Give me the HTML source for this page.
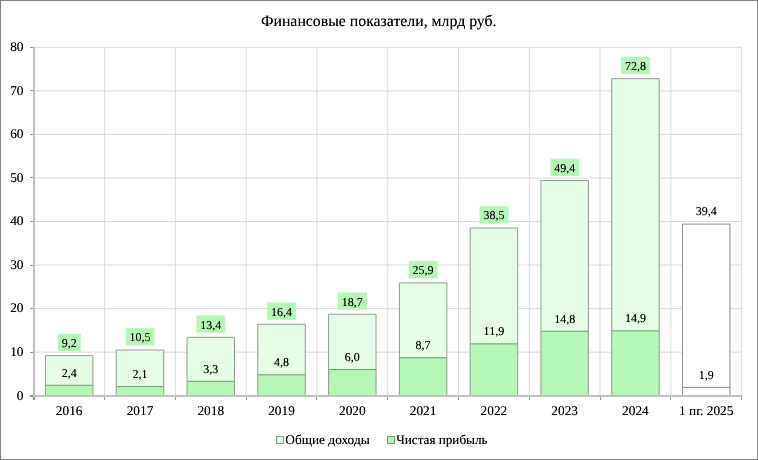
<!DOCTYPE html><html><head><meta charset="utf-8"><style>
html,body{margin:0;padding:0;background:#fff;}
body{width:758px;height:460px;position:relative;overflow:hidden;}
</style></head><body>
<svg width="758" height="460" viewBox="0 0 758 460" style="position:absolute;left:0;top:0">
<rect x="0.5" y="0.5" width="757" height="459" fill="#fff" stroke="#828282" stroke-width="1"/>
<line x1="33.81" y1="352.15" x2="741.61" y2="352.15" stroke="#d9d9d9" stroke-width="1"/>
<line x1="33.81" y1="308.60" x2="741.61" y2="308.60" stroke="#d9d9d9" stroke-width="1"/>
<line x1="33.81" y1="265.05" x2="741.61" y2="265.05" stroke="#d9d9d9" stroke-width="1"/>
<line x1="33.81" y1="221.50" x2="741.61" y2="221.50" stroke="#d9d9d9" stroke-width="1"/>
<line x1="33.81" y1="177.95" x2="741.61" y2="177.95" stroke="#d9d9d9" stroke-width="1"/>
<line x1="33.81" y1="134.40" x2="741.61" y2="134.40" stroke="#d9d9d9" stroke-width="1"/>
<line x1="33.81" y1="90.85" x2="741.61" y2="90.85" stroke="#d9d9d9" stroke-width="1"/>
<line x1="33.81" y1="47.30" x2="741.61" y2="47.30" stroke="#d9d9d9" stroke-width="1"/>
<line x1="104.59" y1="47.3" x2="104.59" y2="395.70" stroke="#d9d9d9" stroke-width="1"/>
<line x1="175.37" y1="47.3" x2="175.37" y2="395.70" stroke="#d9d9d9" stroke-width="1"/>
<line x1="246.15" y1="47.3" x2="246.15" y2="395.70" stroke="#d9d9d9" stroke-width="1"/>
<line x1="316.93" y1="47.3" x2="316.93" y2="395.70" stroke="#d9d9d9" stroke-width="1"/>
<line x1="387.71" y1="47.3" x2="387.71" y2="395.70" stroke="#d9d9d9" stroke-width="1"/>
<line x1="458.49" y1="47.3" x2="458.49" y2="395.70" stroke="#d9d9d9" stroke-width="1"/>
<line x1="529.27" y1="47.3" x2="529.27" y2="395.70" stroke="#d9d9d9" stroke-width="1"/>
<line x1="600.05" y1="47.3" x2="600.05" y2="395.70" stroke="#d9d9d9" stroke-width="1"/>
<line x1="670.83" y1="47.3" x2="670.83" y2="395.70" stroke="#d9d9d9" stroke-width="1"/>
<line x1="741.61" y1="47.3" x2="741.61" y2="395.70" stroke="#d9d9d9" stroke-width="1"/>
<rect x="45.48" y="355.63" width="47.45" height="40.07" fill="#e6fde6"/>
<rect x="45.48" y="385.25" width="47.45" height="10.45" fill="#b5f7b5"/>
<line x1="45.48" y1="385.25" x2="92.93" y2="385.25" stroke="#6e966e" stroke-width="1"/>
<path d="M45.48,395.70V355.63H92.93V395.70" fill="none" stroke="#8f998f" stroke-width="1"/>
<rect x="116.26" y="349.97" width="47.45" height="45.73" fill="#e6fde6"/>
<rect x="116.26" y="386.55" width="47.45" height="9.15" fill="#b5f7b5"/>
<line x1="116.26" y1="386.55" x2="163.71" y2="386.55" stroke="#6e966e" stroke-width="1"/>
<path d="M116.26,395.70V349.97H163.71V395.70" fill="none" stroke="#8f998f" stroke-width="1"/>
<rect x="187.03" y="337.34" width="47.45" height="58.36" fill="#e6fde6"/>
<rect x="187.03" y="381.33" width="47.45" height="14.37" fill="#b5f7b5"/>
<line x1="187.03" y1="381.33" x2="234.49" y2="381.33" stroke="#6e966e" stroke-width="1"/>
<path d="M187.03,395.70V337.34H234.49V395.70" fill="none" stroke="#8f998f" stroke-width="1"/>
<rect x="257.81" y="324.28" width="47.45" height="71.42" fill="#e6fde6"/>
<rect x="257.81" y="374.80" width="47.45" height="20.90" fill="#b5f7b5"/>
<line x1="257.81" y1="374.80" x2="305.26" y2="374.80" stroke="#6e966e" stroke-width="1"/>
<path d="M257.81,395.70V324.28H305.26V395.70" fill="none" stroke="#8f998f" stroke-width="1"/>
<rect x="328.59" y="314.26" width="47.45" height="81.44" fill="#e6fde6"/>
<rect x="328.59" y="369.57" width="47.45" height="26.13" fill="#b5f7b5"/>
<line x1="328.59" y1="369.57" x2="376.04" y2="369.57" stroke="#6e966e" stroke-width="1"/>
<path d="M328.59,395.70V314.26H376.04V395.70" fill="none" stroke="#8f998f" stroke-width="1"/>
<rect x="399.38" y="282.91" width="47.45" height="112.79" fill="#e6fde6"/>
<rect x="399.38" y="357.81" width="47.45" height="37.89" fill="#b5f7b5"/>
<line x1="399.38" y1="357.81" x2="446.82" y2="357.81" stroke="#6e966e" stroke-width="1"/>
<path d="M399.38,395.70V282.91H446.82V395.70" fill="none" stroke="#8f998f" stroke-width="1"/>
<rect x="470.15" y="228.03" width="47.45" height="167.67" fill="#e6fde6"/>
<rect x="470.15" y="343.88" width="47.45" height="51.82" fill="#b5f7b5"/>
<line x1="470.15" y1="343.88" x2="517.61" y2="343.88" stroke="#6e966e" stroke-width="1"/>
<path d="M470.15,395.70V228.03H517.61V395.70" fill="none" stroke="#8f998f" stroke-width="1"/>
<rect x="540.94" y="180.56" width="47.45" height="215.14" fill="#e6fde6"/>
<rect x="540.94" y="331.25" width="47.45" height="64.45" fill="#b5f7b5"/>
<line x1="540.94" y1="331.25" x2="588.39" y2="331.25" stroke="#6e966e" stroke-width="1"/>
<path d="M540.94,395.70V180.56H588.39V395.70" fill="none" stroke="#8f998f" stroke-width="1"/>
<rect x="611.72" y="78.66" width="47.45" height="317.04" fill="#e6fde6"/>
<rect x="611.72" y="330.81" width="47.45" height="64.89" fill="#b5f7b5"/>
<line x1="611.72" y1="330.81" x2="659.17" y2="330.81" stroke="#6e966e" stroke-width="1"/>
<path d="M611.72,395.70V78.66H659.17V395.70" fill="none" stroke="#8f998f" stroke-width="1"/>
<rect x="682.50" y="224.11" width="47.45" height="171.59" fill="#ffffff"/>
<rect x="682.50" y="387.43" width="47.45" height="8.27" fill="#ffffff"/>
<line x1="682.50" y1="387.43" x2="729.95" y2="387.43" stroke="#8c8c8c" stroke-width="1"/>
<path d="M682.50,395.70V224.11H729.95V395.70" fill="none" stroke="#8c8c8c" stroke-width="1"/>
<line x1="34" y1="46.8" x2="34" y2="397" stroke="#bfbfbf" stroke-width="2"/>
<line x1="33" y1="396" x2="742.11" y2="396" stroke="#bfbfbf" stroke-width="2"/>
<line x1="30" y1="396.00" x2="33" y2="396.00" stroke="#8f8f8f" stroke-width="2"/>
<line x1="30" y1="352.50" x2="33" y2="352.50" stroke="#8f8f8f" stroke-width="1"/>
<line x1="30" y1="308.50" x2="33" y2="308.50" stroke="#8f8f8f" stroke-width="1"/>
<line x1="30" y1="265.50" x2="33" y2="265.50" stroke="#8f8f8f" stroke-width="1"/>
<line x1="30" y1="221.50" x2="33" y2="221.50" stroke="#8f8f8f" stroke-width="1"/>
<line x1="30" y1="177.50" x2="33" y2="177.50" stroke="#8f8f8f" stroke-width="1"/>
<line x1="30" y1="134.50" x2="33" y2="134.50" stroke="#8f8f8f" stroke-width="1"/>
<line x1="30" y1="90.50" x2="33" y2="90.50" stroke="#8f8f8f" stroke-width="1"/>
<line x1="30" y1="47.50" x2="33" y2="47.50" stroke="#8f8f8f" stroke-width="1"/>
<line x1="34.00" y1="397" x2="34.00" y2="400" stroke="#8f8f8f" stroke-width="2"/>
<line x1="104.50" y1="397" x2="104.50" y2="400" stroke="#8f8f8f" stroke-width="1"/>
<line x1="175.50" y1="397" x2="175.50" y2="400" stroke="#8f8f8f" stroke-width="1"/>
<line x1="246.50" y1="397" x2="246.50" y2="400" stroke="#8f8f8f" stroke-width="1"/>
<line x1="316.50" y1="397" x2="316.50" y2="400" stroke="#8f8f8f" stroke-width="1"/>
<line x1="387.50" y1="397" x2="387.50" y2="400" stroke="#8f8f8f" stroke-width="1"/>
<line x1="458.50" y1="397" x2="458.50" y2="400" stroke="#8f8f8f" stroke-width="1"/>
<line x1="529.50" y1="397" x2="529.50" y2="400" stroke="#8f8f8f" stroke-width="1"/>
<line x1="600.50" y1="397" x2="600.50" y2="400" stroke="#8f8f8f" stroke-width="1"/>
<line x1="670.50" y1="397" x2="670.50" y2="400" stroke="#8f8f8f" stroke-width="1"/>
<line x1="741.50" y1="397" x2="741.50" y2="400" stroke="#8f8f8f" stroke-width="1"/>
<rect x="57.90" y="333.78" width="22.90" height="17.25" fill="#b5f7b5"/>
<rect x="125.68" y="328.12" width="28.90" height="17.25" fill="#b5f7b5"/>
<rect x="196.46" y="315.49" width="28.90" height="17.25" fill="#b5f7b5"/>
<rect x="267.24" y="302.43" width="28.90" height="17.25" fill="#b5f7b5"/>
<rect x="338.02" y="292.41" width="28.90" height="17.25" fill="#b5f7b5"/>
<rect x="408.80" y="261.06" width="28.90" height="17.25" fill="#b5f7b5"/>
<rect x="479.58" y="206.18" width="28.90" height="17.25" fill="#b5f7b5"/>
<rect x="550.36" y="158.71" width="28.90" height="17.25" fill="#b5f7b5"/>
<rect x="621.14" y="56.81" width="28.90" height="17.25" fill="#b5f7b5"/>
</svg>
<svg width="758" height="460" style="position:absolute;left:0;top:0">
<rect x="276.5" y="436.5" width="7" height="7" fill="#e6fde6" stroke="#8f998f" stroke-width="1"/>
<rect x="387.5" y="436.5" width="7" height="7" fill="#b5f7b5" stroke="#6e966e" stroke-width="1"/>
</svg>
<svg width="758" height="460" viewBox="0 0 758 460" style="position:absolute;left:0;top:0;will-change:transform" font-family="Liberation Serif" fill="#000" text-rendering="geometricPrecision">
<defs><filter id="sf" x="-5%" y="-5%" width="110%" height="110%"><feGaussianBlur stdDeviation="0.25"/><feComponentTransfer><feFuncA type="linear" slope="1.25"/></feComponentTransfer></filter></defs><g filter="url(#sf)">
<text x="378.75" y="26" font-size="15.8" text-anchor="middle">Финансовые показатели, млрд руб.</text>
<text x="23.5" y="399.50" font-size="13.33" text-anchor="end">0</text>
<text x="23.5" y="355.95" font-size="13.33" text-anchor="end">10</text>
<text x="23.5" y="312.40" font-size="13.33" text-anchor="end">20</text>
<text x="23.5" y="268.85" font-size="13.33" text-anchor="end">30</text>
<text x="23.5" y="225.30" font-size="13.33" text-anchor="end">40</text>
<text x="23.5" y="181.75" font-size="13.33" text-anchor="end">50</text>
<text x="23.5" y="138.20" font-size="13.33" text-anchor="end">60</text>
<text x="23.5" y="94.65" font-size="13.33" text-anchor="end">70</text>
<text x="23.5" y="51.10" font-size="13.33" text-anchor="end">80</text>
<text x="69.20" y="415.3" font-size="13.33" text-anchor="middle">2016</text>
<text x="139.98" y="415.3" font-size="13.33" text-anchor="middle">2017</text>
<text x="210.76" y="415.3" font-size="13.33" text-anchor="middle">2018</text>
<text x="281.54" y="415.3" font-size="13.33" text-anchor="middle">2019</text>
<text x="352.32" y="415.3" font-size="13.33" text-anchor="middle">2020</text>
<text x="423.10" y="415.3" font-size="13.33" text-anchor="middle">2021</text>
<text x="493.88" y="415.3" font-size="13.33" text-anchor="middle">2022</text>
<text x="564.66" y="415.3" font-size="13.33" text-anchor="middle">2023</text>
<text x="635.44" y="415.3" font-size="13.33" text-anchor="middle">2024</text>
<text x="706.22" y="415.3" font-size="13.33" text-anchor="middle">1 пг. 2025</text>
<text x="69.20" y="346.88" font-size="12" text-anchor="middle">9,2</text>
<text x="69.20" y="376.50" font-size="12" text-anchor="middle">2,4</text>
<text x="139.98" y="341.22" font-size="12" text-anchor="middle">10,5</text>
<text x="139.98" y="377.80" font-size="12" text-anchor="middle">2,1</text>
<text x="210.76" y="328.59" font-size="12" text-anchor="middle">13,4</text>
<text x="210.76" y="372.58" font-size="12" text-anchor="middle">3,3</text>
<text x="281.54" y="315.53" font-size="12" text-anchor="middle">16,4</text>
<text x="281.54" y="366.05" font-size="12" text-anchor="middle">4,8</text>
<text x="352.32" y="305.51" font-size="12" text-anchor="middle">18,7</text>
<text x="352.32" y="360.82" font-size="12" text-anchor="middle">6,0</text>
<text x="423.10" y="274.16" font-size="12" text-anchor="middle">25,9</text>
<text x="423.10" y="349.06" font-size="12" text-anchor="middle">8,7</text>
<text x="493.88" y="219.28" font-size="12" text-anchor="middle">38,5</text>
<text x="493.88" y="335.13" font-size="12" text-anchor="middle">11,9</text>
<text x="564.66" y="171.81" font-size="12" text-anchor="middle">49,4</text>
<text x="564.66" y="322.50" font-size="12" text-anchor="middle">14,8</text>
<text x="635.44" y="69.91" font-size="12" text-anchor="middle">72,8</text>
<text x="635.44" y="322.06" font-size="12" text-anchor="middle">14,9</text>
<text x="706.22" y="215.36" font-size="12" text-anchor="middle">39,4</text>
<text x="706.22" y="378.68" font-size="12" text-anchor="middle">1,9</text>
<text x="285.3" y="444.2" font-size="13.33">Общие доходы</text>
<text x="396.3" y="444.2" font-size="13.15">Чистая прибыль</text>
</g></svg>
</body></html>
